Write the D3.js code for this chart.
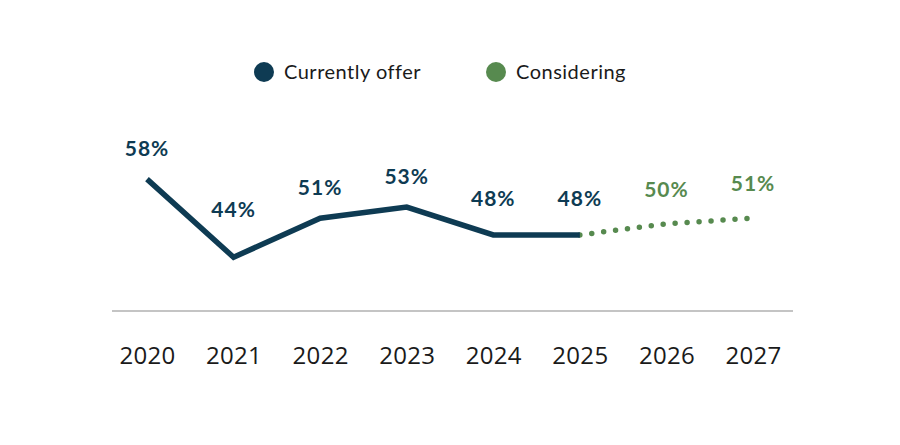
<!DOCTYPE html>
<html>
<head>
<meta charset="utf-8">
<script src="https://cdn.jsdelivr.net/npm/d3@7"></script>
<style>
  html, body { margin: 0; padding: 0; background: #fff; }
  svg { display: block; }
</style>
</head>
<body>
<svg id="chart" width="900" height="445"></svg>
<script>
const years = ["2020", "2021", "2022", "2023", "2024", "2025", "2026", "2027"];
const currentlyOffer = [58, 44, 51, 53, 48, 48, null, null];
const considering = [null, null, null, null, null, 48, 50, 51];
const considerLabels = [null, null, null, null, null, null, 50, 51];
const seriesNames = ["Currently offer", "Considering"];
const colors = ["#0e3b53", "#578a4f"];

const svg = d3.select("#chart");
const x = d3.scalePoint().domain(years).range([147, 753]);
const y = d3.scaleLinear().domain([34, 60]).range([313, 168]);
const axisY = 311;

// axis line
svg.append("line")
  .attr("x1", 112).attr("x2", 793)
  .attr("y1", axisY).attr("y2", axisY)
  .attr("stroke", "#8a8a8a").attr("stroke-width", 1.2);

const xAxis = d3.axisBottom(x).tickSize(0).tickPadding(36);
const gx = svg.append("g").attr("transform", `translate(0,${axisY})`).call(xAxis);
gx.select(".domain").remove();
gx.selectAll("text")
  .attr("font-family", "'Open Sans', sans-serif")
  .attr("font-size", 24)
  .attr("letter-spacing", 0.3)
  .attr("fill", "#1a1a1a");

const line = d3.line()
  .defined(d => d.v != null)
  .x(d => x(d.year))
  .y(d => y(d.v));

const d1 = years.map((yr, i) => ({ year: yr, v: currentlyOffer[i] }));
const d2 = years.map((yr, i) => ({ year: yr, v: considering[i] }));

svg.append("path").datum(d2)
  .attr("d", line)
  .attr("fill", "none")
  .attr("stroke", colors[1])
  .attr("stroke-width", 5.5)
  .attr("stroke-linecap", "round")
  .attr("stroke-dasharray", "0 12");

svg.append("path").datum(d1)
  .attr("d", line)
  .attr("fill", "none")
  .attr("stroke", colors[0])
  .attr("stroke-width", 5.5)
  .attr("stroke-linejoin", "miter");

function labelOffset(i, arr) {
  const v = arr[i];
  const prev = arr[i - 1], next = arr[i + 1];
  if (prev != null && next != null && v < prev && v < next) return 40;
  return 23;
}

svg.append("g").selectAll("text")
  .data(d1.filter(d => d.v != null))
  .join("text")
  .attr("x", d => x(d.year))
  .attr("y", (d, i) => y(d.v) - labelOffset(i, currentlyOffer) - (d.v === 48 ? 6 : 0))
  .attr("text-anchor", "middle")
  .attr("font-family", "Lato, sans-serif")
  .attr("font-weight", 700)
  .attr("font-size", 21)
  .attr("letter-spacing", 1)
  .attr("fill", colors[0])
  .text(d => d.v + "%");

svg.append("g").selectAll("text")
  .data(years.map((yr, i) => ({ year: yr, v: considerLabels[i] })).filter(d => d.v != null))
  .join("text")
  .attr("x", d => x(d.year))
  .attr("y", d => y(d.v) - 27)
  .attr("text-anchor", "middle")
  .attr("font-family", "Lato, sans-serif")
  .attr("font-weight", 700)
  .attr("font-size", 21)
  .attr("letter-spacing", 1)
  .attr("fill", colors[1])
  .text(d => d.v + "%");

// legend
const legendX = [264, 496];
const lg = svg.append("g").selectAll("g")
  .data(seriesNames)
  .join("g")
  .attr("transform", (d, i) => `translate(${legendX[i]},72)`);
lg.append("circle").attr("r", 10).attr("fill", (d, i) => colors[i]);
lg.append("text")
  .attr("x", 20).attr("dy", "0.35em")
  .attr("font-family", "Lato, sans-serif")
  .attr("font-size", 20)
  .attr("letter-spacing", 0.5)
  .attr("fill", "#1a1a1a")
  .text(d => d);
</script>
</body>
</html>
